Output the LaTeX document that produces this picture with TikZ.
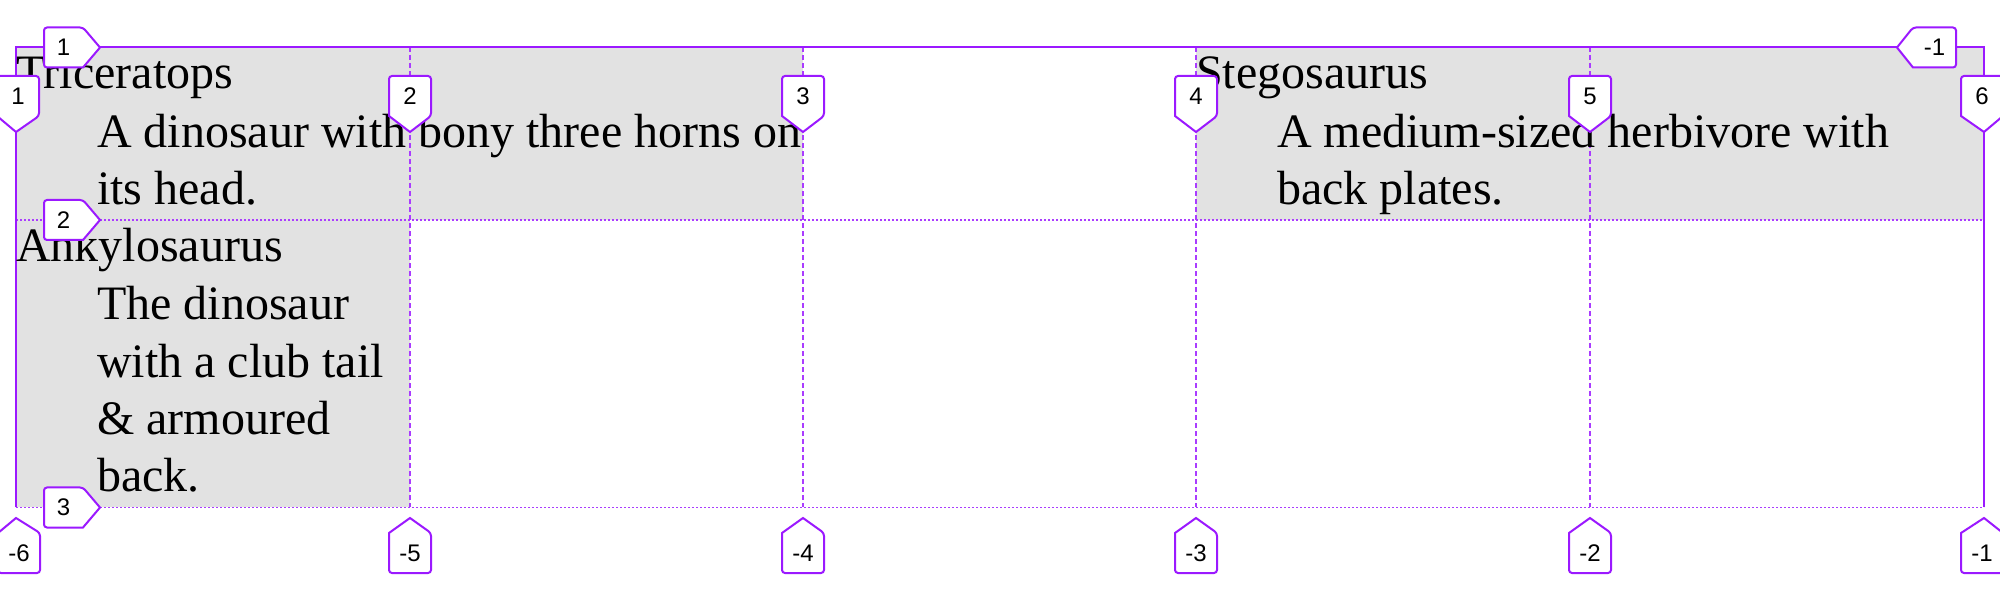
\documentclass[tikz,border=0pt]{standalone}
\usepackage{fontspec}
\setmainfont{Liberation Serif}
\setsansfont{Liberation Sans}
\usetikzlibrary{positioning}

\definecolor{gridpurple}{RGB}{155,25,255}
\definecolor{cellgray}{RGB}{226,226,226}

\begin{document}
\begin{tikzpicture}[x=1pt, y=1pt,
                    cell/.style = {fill=cellgray, draw=none},
                    border/.style = {draw=gridpurple, line width=2pt},
                    colline/.style = {draw=gridpurple!85, line width=1.4pt, dash pattern=on 5pt off 3pt},
                    rowline/.style = {draw=gridpurple!85, line width=1.4pt, dash pattern=on 2pt off 2pt},
                    tag/.style = {draw=gridpurple, fill=white, line width=2pt},
                    tagtext/.style = {font=\sffamily\fontsize{24}{24}\selectfont, inner sep=0pt},
                    title/.style = {font=\fontsize{48}{57.5}\selectfont, anchor=base west, inner sep=0pt},
                    desc/.style = {title, align=left}
                ]
                    \useasboundingbox (0,0) rectangle (2000,600);

                    % grid areas
                    \fill[cell] (16,552.5) rectangle (803,380);
                    \fill[cell] (1196,552.5) rectangle (1984,380);
                    \fill[cell] (16,380) rectangle (410,92.5);

                    \foreach \n/\x in {1/16, 2/410, 3/803, 4/1196, 5/1590, 6/1984} {
                        \coordinate (top\n) at (\x,552.5);
                        \coordinate (bot\n) at (\x,92.5);
                    }
                    \coordinate (left2) at (16,380);
                    \coordinate (right2) at (1984,380);

                    % grid lines
                    \foreach \n in {2,...,5}
                        \draw[colline] (top\n) -- (bot\n);
                    \draw[rowline] (left2) -- (right2);
                    \draw[rowline] (bot1) -- (bot6);
                    \draw[border] (bot1) -- (top1) -- (top6) -- (bot6);

                    % items (desc nodes sit on their last line)
                    \node[title] (tri) at (16,511) {Triceratops};
                    \node[desc] (triDesc) at (97,395) {A dinosaur with bony three horns on\\its head.};
                    \node[title] (ank) at (16,338) {Ankylosaurus};
                    \node[desc] (ankDesc) at (97,108) {The dinosaur\\with a club tail\\\& armoured\\back.};
                    \node[title] (steg) at (1196,511) {Stegosaurus};
                    \node[desc] (stegDesc) at (1277,395) {A medium-sized herbivore with\\back plates.};

                    % line numbers
                    \foreach \n/\x/\c in {1/16/18, 2/410/410, 3/803/803, 4/1196/1196, 5/1590/1590, 6/1984/1982} {
                        \draw[tag] (\x,468) -- (\c-21,484) [rounded corners=3pt] -- (\c-21,524) -- (\c+21,524) -- (\c+21,484) [sharp corners] -- cycle;
                        \node[tagtext] (colTop\n) at (\c,504) {\n};
                    }
                    \foreach \n/\x/\c in {6/16/19, 5/410/410, 4/803/803, 3/1196/1196, 2/1590/1590, 1/1984/1982} {
                        \draw[tag] (\x,82) -- (\c-21,67) [rounded corners=3pt] -- (\c-21,27) -- (\c+21,27) -- (\c+21,67) [sharp corners] -- cycle;
                        \node[tagtext] (colBot\n) at (\c,47) {-\n};
                    }
                    \foreach \n/\y in {1/552.5, 2/380, 3/92.5} {
                        \draw[tag] (100,\y) -- (83,\y-20) [rounded corners=3pt] -- (44,\y-20) -- (44,\y+20) -- (83,\y+20) [sharp corners] -- cycle;
                        \node[tagtext] (row\n) at (63.5,\y) {\n};
                    }
                    \draw[tag] (1897,552.5) -- (1913,532.5) [rounded corners=3pt] -- (1956,532.5) -- (1956,572.5) -- (1913,572.5) [sharp corners] -- cycle;
                    \node[tagtext] (rowEnd) at (1934.5,552.5) {-1};
                \end{tikzpicture}
\end{document}
